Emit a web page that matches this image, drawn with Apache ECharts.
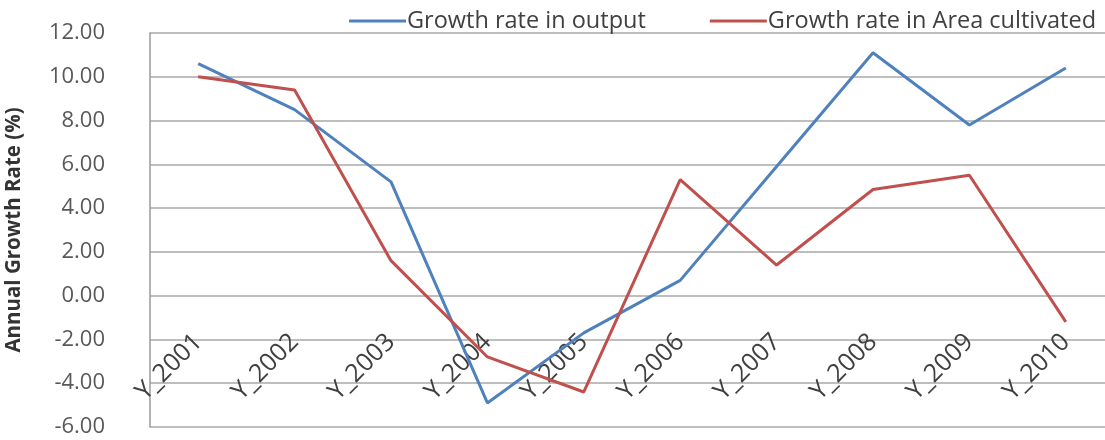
<!DOCTYPE html>
<html>
<head>
<meta charset="utf-8">
<script src="https://cdn.jsdelivr.net/npm/echarts@6/dist/echarts.min.js"></script>
<style>
  html, body { margin: 0; padding: 0; background: #fff; }
  #chart { width: 1105px; height: 440px; }
</style>
</head>
<body>
<div id="chart"></div>
<script>
// datos
var years = ['Y_2001', 'Y_2002', 'Y_2003', 'Y_2004', 'Y_2005', 'Y_2006', 'Y_2007', 'Y_2008', 'Y_2009', 'Y_2010'];
var outputGrowth = [10.6, 8.5, 5.2, -4.9, -1.7, 0.7, 5.9, 11.1, 7.8, 10.4];
var areaGrowth = [10.0, 9.4, 1.6, -2.8, -4.4, 5.3, 1.4, 4.85, 5.5, -1.2];
var seriesNames = ['Growth rate in output', 'Growth rate in Area cultivated'];

var chart = echarts.init(document.getElementById('chart'));

var option = {
    animation: false,
    textStyle: { fontFamily: 'Open Sans' },
    legend: {
        data: seriesNames,
        left: 344,
        top: 4,
        icon: 'rect',
        itemWidth: 57,
        itemHeight: 3,
        itemGap: 64,
        textStyle: { fontSize: 23.5, color: '#404040', padding: [0, 0, 0, -4] }
    },
    grid: {
        left: 150,
        top: 33,
        width: 964,
        height: 394,
        containLabel: false,
        outerBoundsMode: 'none'
    },
    xAxis: {
        type: 'category',
        data: years,
        boundaryGap: true,
        // el eje cruza en 0 (onZero no funciona aqui, se desplaza a mano)
        offset: -131,
        axisLine: { show: false },
        axisTick: { show: false },
        axisLabel: {
            interval: 0,
            rotate: 45,
            margin: 42,
            fontSize: 25,
            color: '#404040'
        }
    },
    yAxis: {
        type: 'value',
        min: -6,
        max: 12,
        interval: 2,
        name: 'Annual Growth Rate (%)',
        nameLocation: 'middle',
        nameGap: 125,
        nameTextStyle: { fontSize: 20.5, fontWeight: 'bold', color: '#333' },
        axisLine: { show: true, lineStyle: { color: '#9a9a9a', width: 1.5 } },
        axisTick: { show: false },
        axisLabel: {
            margin: 45,
            fontSize: 22,
            color: '#595959',
            formatter: function (v) { return v.toFixed(2); }
        },
        splitLine: { lineStyle: { color: '#a8a8a8', width: 1.5 } }
    },
    series: [
        {
            name: seriesNames[0],
            type: 'line',
            data: outputGrowth,
            symbol: 'none',
            lineStyle: { color: '#4F81BD', width: 3 },
            itemStyle: { color: '#4F81BD' }
        },
        {
            name: seriesNames[1],
            type: 'line',
            data: areaGrowth,
            symbol: 'none',
            lineStyle: { color: '#C0504D', width: 3 },
            itemStyle: { color: '#C0504D' }
        }
    ]
};

chart.setOption(option);
</script>
</body>
</html>
